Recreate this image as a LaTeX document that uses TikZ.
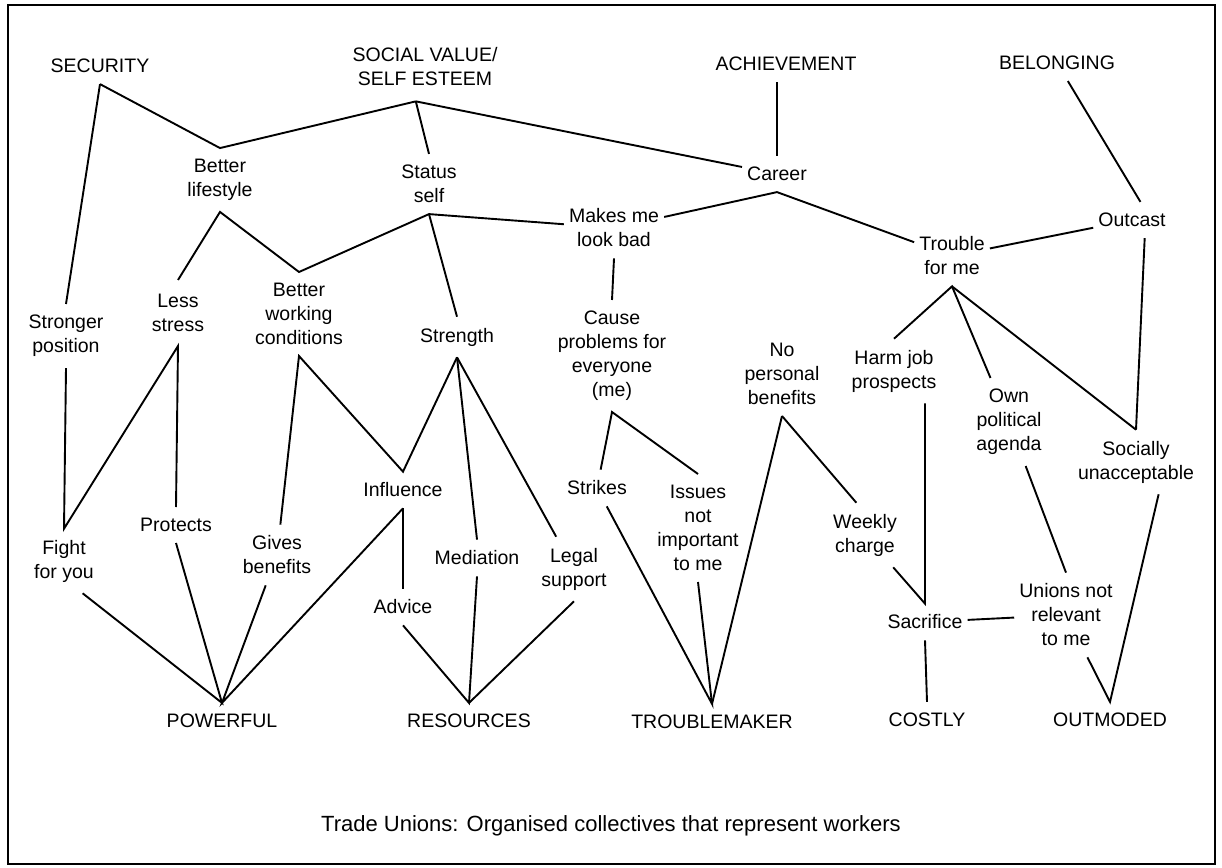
\documentclass[tikz,border=0pt]{standalone}
\usepackage{fontspec}
\setmainfont{Liberation Sans}

\begin{document}
\begin{tikzpicture}[x=1pt,y=-1pt,
  concept/.style={align=center,inner xsep=5pt,inner ysep=11pt,font=\fontsize{19.5}{24}\selectfont},
  link/.style={black,line width=1.9pt}]
\useasboundingbox (0,0) rectangle (1222,867);
% Frame
\draw[line width=2.7pt] (8,5) rectangle (1215,864);

% Values
\node[concept] (sec) at (100,66) {SECURITY};
\node[concept,inner ysep=15pt] (soc) at (425,67) {SOCIAL VALUE/\\SELF ESTEEM};
\node[concept] (ach) at (786,64) {ACHIEVEMENT};
\node[concept] (bel) at (1057,63) {BELONGING};

% Consequences
\node[concept] (blife) at (220,180) {Better\\lifestyle};
\node[concept] (stat) at (429,184) {Status\\self};
\node[concept] (car) at (777,174) {Career};
\node[concept] (out) at (1132,220) {Outcast};
\node[concept] (mmlb) at (614,228) {Makes me\\look bad};
\node[concept] (tfm) at (952,256) {Trouble\\for me};
\node[concept] (strpos) at (66,336) {Stronger\\position};
\node[concept,inner ysep=14pt] (less) at (178,313) {Less\\stress};
\node[concept] (bwc) at (299,314) {Better\\working\\conditions};
\node[concept] (strength) at (457,337) {Strength};
\node[concept] (cause) at (612,356) {Cause\\problems for\\everyone\\(me)};
\node[concept] (nopb) at (782,374) {No\\personal\\benefits};
\node[concept] (harm) at (894,371) {Harm job\\prospects};
\node[concept] (own) at (1009,422) {Own\\political\\agenda};
\node[concept] (socun) at (1136,462) {Socially\\unacceptable};

% Attributes
\node[concept] (infl) at (403,490) {Influence};
\node[concept] (strikes) at (597,488) {Strikes};
\node[concept] (issues) at (698,528) {Issues\\not\\important\\to me};
\node[concept] (weekly) at (865,535) {Weekly\\charge};
\node[concept] (fight) at (64,561) {Fight\\for you};
\node[concept] (protects) at (176,525) {Protects};
\node[concept] (gives) at (277,555) {Gives\\benefits};
\node[concept] (media) at (477,558) {Mediation};
\node[concept] (legal) at (574,569) {Legal\\support};
\node[concept] (advice) at (403,607) {Advice};
\node[concept] (sacr) at (925,622) {Sacrifice};
\node[concept] (unions) at (1066,615) {Unions not\\relevant\\to me};

% Constructs
\node[concept] (power) at (222,721) {POWERFUL};
\node[concept] (resrc) at (469,721) {RESOURCES};
\node[concept] (trbl) at (712,722) {TROUBLEMAKER};
\node[concept] (costly) at (927,720) {COSTLY};
\node[concept] (outmod) at (1110,720) {OUTMODED};

% Caption
\node[concept,font=\fontsize{22}{26}\selectfont] (capt) at (611,826) {Trade Unions: Organised collectives that represent workers};

% Connect values to consequences
\draw[link] (sec.south) -- (blife.north) -- (soc.-105);
\draw[link] (sec.south) -- (strpos.north);
\draw[link] (soc.-105) -- (stat.north);
\draw[link] (soc.-105) -- (car);
\draw[link] (car.north) -- (car.north |- ach.south);
\draw[link] (bel) -- (out.65);
% Connect consequences to one another
\draw[link] (less.north) -- (blife.south) -- (bwc.north) -- (stat.south) -- (mmlb);
\draw[link] (stat.south) -- (strength.north);
\draw[link] (mmlb) -- (car.south) -- (tfm);
\draw[link] (out) -- (tfm);
\draw[link] (out.-55) -- (socun.north);
\draw[link] (mmlb.south) -- (cause.north);
\draw[link] (harm.north) -- (tfm.south) -- (own);
\draw[link] (tfm.south) -- (socun.north);
% Connect consequences to attributes
\draw[link] (strpos.south) -- (fight.north) -- (less.south) -- (protects.north);
\draw[link] (gives) -- (bwc.south) -- (infl.north) -- (strength.south);
\draw[link] (strength.south) -- (media.north);
\draw[link] (strength.south) -- (legal);
\draw[link] (strikes) -- (cause.south) -- (issues.north);
\draw[link] (weekly.105) -- (nopb.south);
\draw[link] (harm.south -| sacr.north) -- (sacr.north) -- (weekly);
\draw[link] (own) -- (unions.north);
\draw[link] (infl.south) -- (advice.north);
\draw[link] (sacr) -- (unions);
% Connect attributes to constructs
\draw[link] (fight.-60) -- (power.north) -- (protects.south);
\draw[link] (gives) -- (power.north) -- (infl.south);
\draw[link] (advice.south) -- (resrc.north) -- (media.south);
\draw[link] (legal.south) -- (resrc.north);
\draw[link] (strikes) -- (trbl.north) -- (issues.south);
\draw[link] (trbl.north) -- (nopb.south);
\draw[link] (sacr.south) -- (costly.north);
\draw[link] (unions) -- (outmod.north) -- (socun.-55);

\end{tikzpicture}
\end{document}
